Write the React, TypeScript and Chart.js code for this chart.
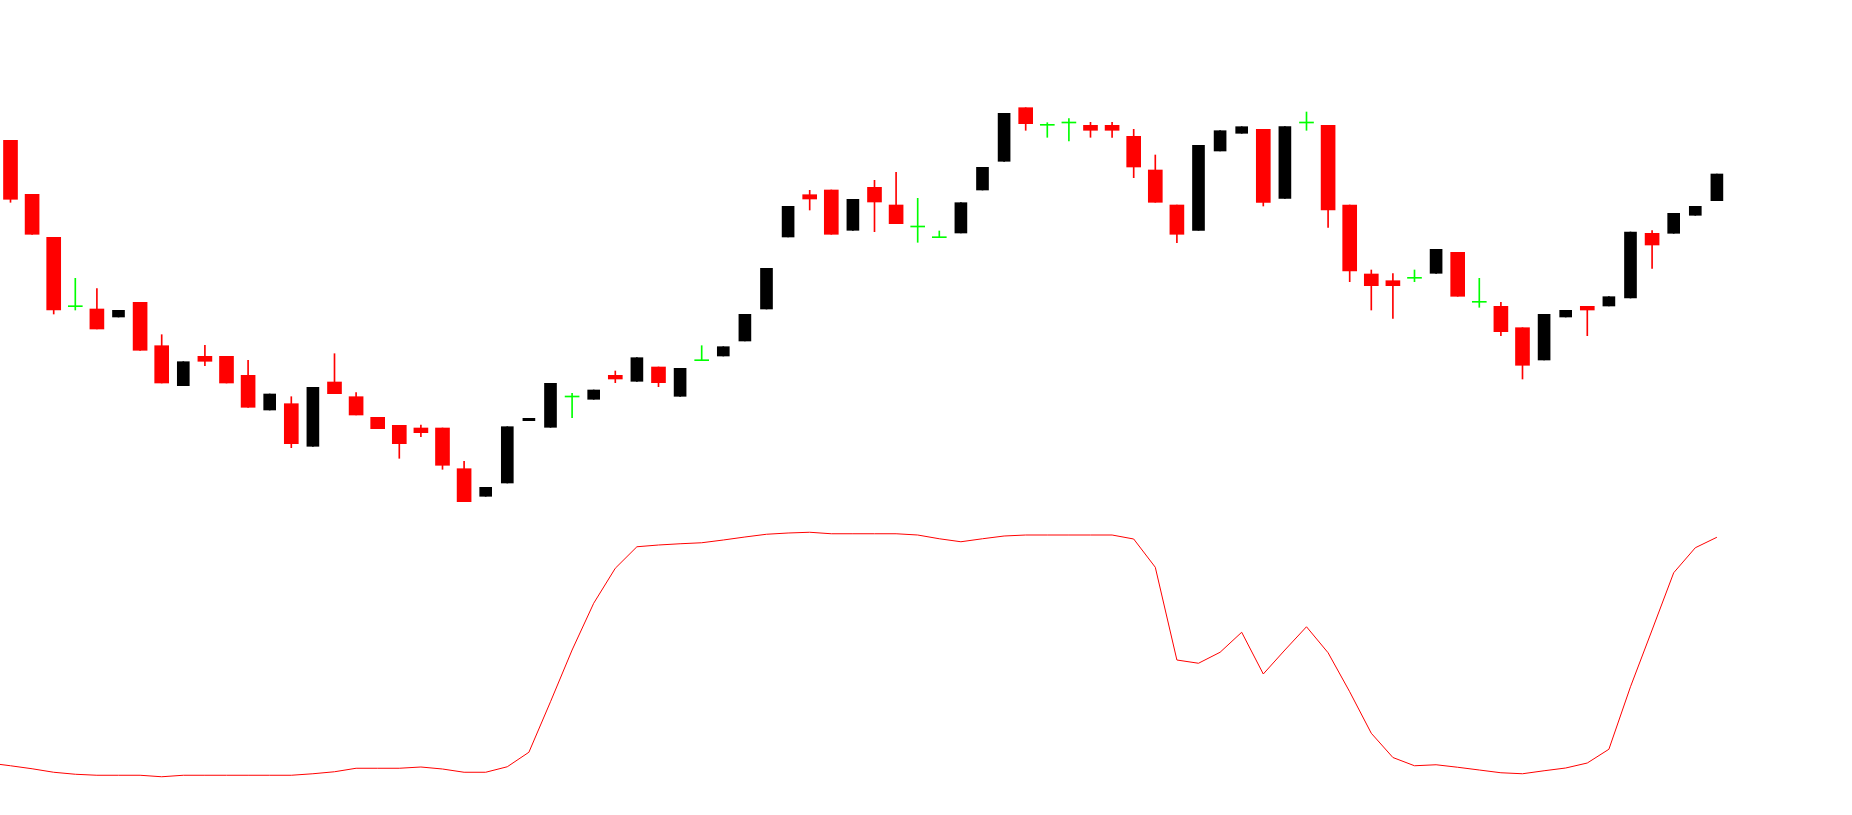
import React, { useEffect, useRef } from "react";
import { Chart, registerables } from "chart.js";

Chart.register(...registerables);

// Candle prices (index 0..79)
const opens = [
  1.18597, 1.18057, 1.17627, 1.16933, 1.1691, 1.1683, 1.16977, 1.16543, 1.16143, 1.16437,
  1.16437, 1.16247, 1.159, 1.15963, 1.15537, 1.1618, 1.16033, 1.15827, 1.15747, 1.1572,
  1.1572, 1.15313, 1.15037, 1.1517, 1.15793, 1.15727, 1.1603, 1.16007, 1.16247, 1.16187,
  1.1633, 1.16037, 1.16393, 1.1644, 1.1659, 1.1691, 1.1763, 1.18053, 1.181, 1.17697,
  1.18127, 1.1795, 1.1773, 1.17623, 1.1767, 1.181, 1.18387, 1.18923, 1.18747, 1.1877,
  1.18747, 1.18747, 1.18637, 1.183, 1.1795, 1.17697, 1.1849, 1.18667, 1.18707, 1.18017,
  1.1877, 1.18747, 1.1795, 1.1726, 1.17193, 1.17217, 1.17267, 1.17477, 1.16977, 1.16937,
  1.16723, 1.164, 1.1683, 1.16937, 1.1694, 1.1702, 1.17667, 1.17667, 1.17847, 1.17993,
];
const highs = [
  1.18597, 1.18057, 1.17627, 1.17217, 1.17113, 1.16897, 1.16977, 1.16653, 1.16383, 1.16547,
  1.16437, 1.16397, 1.1606, 1.16033, 1.16127, 1.16463, 1.16073, 1.15827, 1.15747, 1.1575,
  1.1572, 1.15387, 1.15127, 1.15733, 1.15817, 1.16167, 1.16067, 1.161, 1.1629, 1.16423,
  1.1633, 1.16317, 1.16543, 1.16533, 1.16857, 1.17317, 1.17937, 1.18097, 1.181, 1.18007,
  1.18197, 1.18277, 1.18017, 1.1769, 1.17973, 1.18327, 1.18867, 1.18923, 1.18773, 1.18813,
  1.18777, 1.18777, 1.18707, 1.1845, 1.1795, 1.18547, 1.18693, 1.18733, 1.18707, 1.18733,
  1.1888, 1.18747, 1.1795, 1.173, 1.17263, 1.173, 1.17507, 1.17477, 1.17217, 1.16977,
  1.16723, 1.16857, 1.16897, 1.16937, 1.17033, 1.1768, 1.17693, 1.17867, 1.17937, 1.1826,
];
const lows = [
  1.17977, 1.17657, 1.1686, 1.169, 1.1671, 1.1683, 1.16497, 1.1617, 1.16143, 1.16343,
  1.1617, 1.15927, 1.159, 1.15523, 1.15537, 1.16063, 1.1585, 1.15713, 1.15417, 1.15633,
  1.15307, 1.14983, 1.15037, 1.1517, 1.15793, 1.15727, 1.15823, 1.16007, 1.16173, 1.16187,
  1.16133, 1.16037, 1.16393, 1.1644, 1.1659, 1.1691, 1.1763, 1.179, 1.17657, 1.17697,
  1.17683, 1.17763, 1.17577, 1.17623, 1.1767, 1.181, 1.18387, 1.18697, 1.18627, 1.1859,
  1.18627, 1.18627, 1.18223, 1.17977, 1.17573, 1.17697, 1.1849, 1.18667, 1.1794, 1.18017,
  1.18697, 1.17727, 1.17183, 1.169, 1.16817, 1.17183, 1.17267, 1.17037, 1.16927, 1.16643,
  1.1621, 1.164, 1.1683, 1.16643, 1.1694, 1.1702, 1.17317, 1.17667, 1.17847, 1.17993,
];
const closes = [
  1.18007, 1.17657, 1.169, 1.16933, 1.1671, 1.16897, 1.16497, 1.1617, 1.16383, 1.16387,
  1.1617, 1.15927, 1.1606, 1.15563, 1.16127, 1.16063, 1.1585, 1.15713, 1.15563, 1.15673,
  1.15347, 1.14983, 1.15127, 1.15733, 1.15817, 1.16167, 1.1603, 1.161, 1.1621, 1.16423,
  1.16173, 1.16317, 1.16393, 1.16533, 1.16857, 1.17317, 1.17937, 1.1801, 1.17657, 1.18007,
  1.1798, 1.17763, 1.1773, 1.17623, 1.17973, 1.18327, 1.18867, 1.18763, 1.18747, 1.1877,
  1.18697, 1.18697, 1.1833, 1.17977, 1.17657, 1.18547, 1.18693, 1.18733, 1.17977, 1.18733,
  1.1877, 1.179, 1.1729, 1.17143, 1.17143, 1.17217, 1.17507, 1.17037, 1.16977, 1.16683,
  1.16347, 1.16857, 1.16897, 1.169, 1.17033, 1.1768, 1.1755, 1.17867, 1.17937, 1.1826,
];

// Oscillator (starts one bar before the first visible candle, index -1)
const oscStartIndex = -1;
const oscValues = [
  6.8, 5.7, 4.5, 3.1, 2.3, 1.9, 1.9, 1.9, 1.3, 1.9,
  1.9, 1.9, 1.9, 1.9, 1.9, 2.5, 3.3, 4.7, 4.7, 4.7,
  5.2, 4.4, 3.1, 3.1, 5.3, 11.1, 31.3, 52.0, 70.7, 84.7,
  93.3, 94.0, 94.5, 94.9, 96.0, 97.2, 98.3, 98.8, 99.1, 98.5,
  98.5, 98.5, 98.5, 98.0, 96.5, 95.3, 96.5, 97.6, 98.0, 98.0,
  98.0, 98.0, 98.0, 96.4, 85.1, 48.0, 46.7, 51.1, 59.1, 42.4,
  52.0, 61.3, 50.9, 35.3, 18.7, 9.0, 5.7, 6.1, 5.1, 4.0,
  2.9, 2.5, 3.7, 4.8, 6.8, 12.3, 37.3, 60.0, 82.9, 92.9,
  97.1,
];

const RED = "#FF0000";
const BLACK = "#000000";
const GREEN = "#00FF00";

// Axis ranges
const xMin = -0.486;
const xMax = 85.255;
const priceMin = 1.1185;
const priceMax = 1.2;
const oscMin = -14;
const oscMax = 312;

export default function App() {
  const ref = useRef<HTMLCanvasElement | null>(null);

  useEffect(() => {
    if (!ref.current) return;
    const kind = opens.map((o, i) =>
      closes[i] === o ? "doji" : closes[i] < o ? "bear" : "bull"
    );
    const colorOf = (k: string) => (k === "doji" ? GREEN : k === "bear" ? RED : BLACK);

    const wicks = opens.map((_, i) => ({ x: i, y: [lows[i], highs[i]] }));
    const bearBodies = opens
      .map((o, i) => ({ x: i, y: [o, closes[i]] }))
      .filter((_, i) => kind[i] === "bear");
    const bullBodies = opens
      .map((o, i) => ({ x: i, y: [o, closes[i]] }))
      .filter((_, i) => kind[i] === "bull");
    const dojiBodies = opens
      .map((o, i) => ({ x: i, y: [o, closes[i]] }))
      .filter((_, i) => kind[i] === "doji");
    const osc = oscValues.map((v, i) => ({ x: i + oscStartIndex, y: v }));

    const chart = new Chart(ref.current, {
      type: "bar",
      data: {
        datasets: [
          {
            type: "line",
            data: osc,
            yAxisID: "y2",
            borderColor: RED,
            borderWidth: 1,
            pointRadius: 0,
            tension: 0,
            fill: false,
          } as any,
          {
            data: wicks,
            yAxisID: "y",
            backgroundColor: kind.map(colorOf),
            barThickness: 1,
            grouped: false,
            borderWidth: 0,
          } as any,
          {
            data: bearBodies,
            yAxisID: "y",
            backgroundColor: RED,
            barThickness: 14,
            grouped: false,
            borderWidth: 0,
          } as any,
          {
            data: bullBodies,
            yAxisID: "y",
            backgroundColor: BLACK,
            barThickness: 12,
            grouped: false,
            borderWidth: 0,
          } as any,
          {
            data: dojiBodies,
            yAxisID: "y",
            backgroundColor: GREEN,
            barThickness: 14,
            minBarLength: 1,
            grouped: false,
            borderWidth: 0,
          } as any,
        ],
      },
      options: {
        animation: false,
        responsive: false,
        events: [],
        layout: { padding: 0 },
        plugins: {
          legend: { display: false },
          tooltip: { enabled: false },
          title: { display: false },
        },
        scales: {
          x: { type: "linear", min: xMin, max: xMax, offset: false, display: false },
          y: { type: "linear", min: priceMin, max: priceMax, display: false },
          y2: { type: "linear", min: oscMin, max: oscMax, display: false },
        },
      } as any,
    });
    return () => chart.destroy();
  }, []);

  return (
    <div style={{ position: "fixed", left: 0, top: 0, width: 1852, height: 815, background: "#FFFFFF" }}>
      <canvas ref={ref} width={1852} height={815} style={{ display: "block" }} />
    </div>
  );
}
